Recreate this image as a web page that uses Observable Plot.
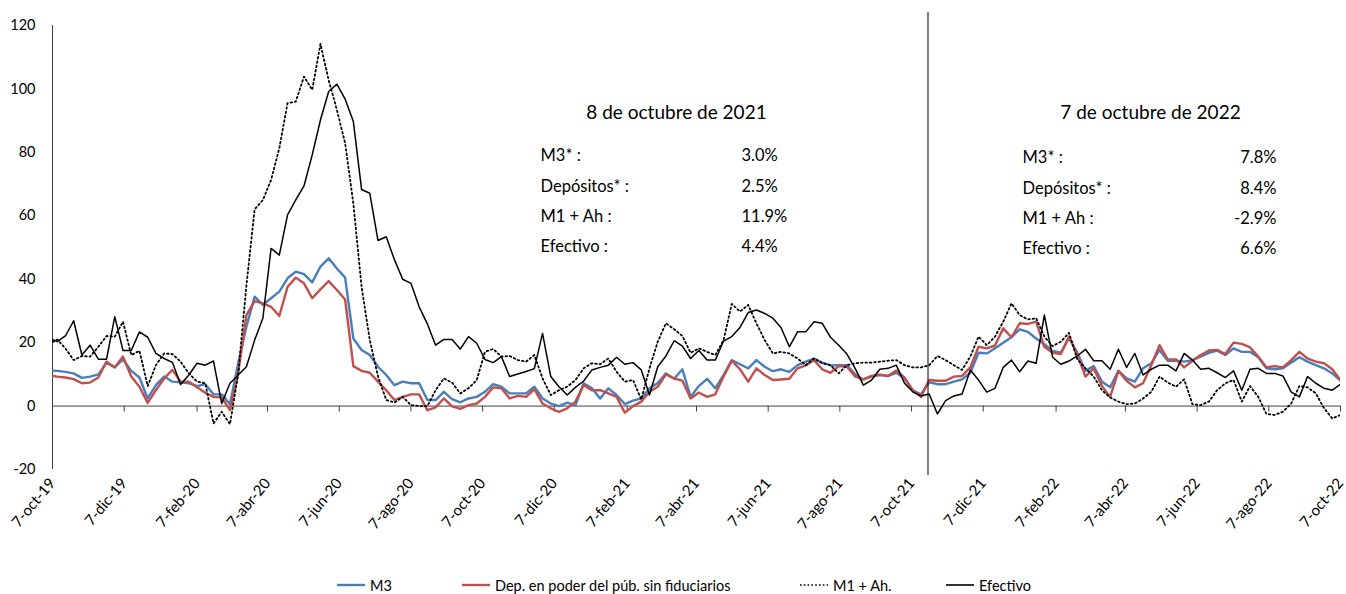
<!DOCTYPE html>
<html><head><meta charset="utf-8">
<script src="https://cdn.jsdelivr.net/npm/d3@7"></script>
<script src="https://cdn.jsdelivr.net/npm/@observablehq/plot@0.6"></script>
<style>
body{margin:0;background:#fff;}
#wrap{position:relative;width:1346px;height:594px;overflow:hidden;font-family:Lato,"Open Sans",sans-serif;}
#legend{position:absolute;left:0;top:575px;width:1346px;height:20px;font-size:14.5px;color:#000;}
.item{position:absolute;top:0;height:20px;display:flex;align-items:center;white-space:nowrap;}
.item svg{margin-right:5px;}
</style></head><body><div id="wrap"><div id="chart"></div><div id="legend"></div></div>
<script>
// ---------------- data ----------------
const START_DATE = "2019-10-04"; // first weekly observation (Fridays)
const M3 = [11.2,
 11.1,10.8,10.3,8.9,9.3,10.0,13.7,12.2,14.7,11.1,9.0,2.4,6.6,9.3,7.7,7.5,7.2,6.3,6.9,3.7,3.7,0.6,
 13.5,25.0,34.5,31.9,34.0,36.1,40.3,42.4,41.6,39.0,44.0,46.6,43.4,40.5,21.3,17.7,16.1,12.4,9.8,6.6,7.7,7.2,7.2,1.9,1.9,4.5,
 2.2,1.2,
 2.4,2.9,4.5,6.9,6.1,4.0,4.0,4.0,6.1,2.4,0.8,0.0,1.1,0.2,7.2,5.6,2.4,5.6,3.5,0.6,1.7,2.4,5.6,7.3,
 10.3,8.6,11.6,2.9,6.3,8.6,5.6,9.8,14.5,13.2,11.9,14.5,12.4,11.0,11.6,10.8,12.9,14.0,15.0,13.7,12.8,12.9,12.9,10.0,8.4,9.3,
 9.8,9.5,10.5,8.7,5.0,3.7,7.5,6.9,6.9,7.7,8.4,10.5,16.8,16.6,18.2,20.0,21.7,24.2,23.4,21.3,19.5,17.4,16.8,21.5,16.8,
 11.1,12.6,7.7,5.9,11.1,8.7,7.7,11.9,13.5,17.7,14.3,14.3,14.0,14.5,15.6,16.8,17.5,16.1,18.2,17.1,17.1,15.4,11.9,11.6,11.9,13.7,15.4,14.0,12.9,11.9,10.3,8.0];
const DEPOSITOS = [9.7,
 9.3,9.0,8.5,7.2,7.4,9.0,14.0,12.2,15.6,9.3,6.1,1.0,5.0,8.7,11.4,7.7,7.7,5.9,4.2,2.9,2.7,-1.3,
 10.3,28.7,33.1,32.4,31.3,28.4,37.6,40.5,38.7,34.0,36.8,39.4,36.6,33.6,12.6,11.1,10.5,7.7,5.0,1.9,2.9,3.7,3.7,-1.3,-0.4,2.4,
 -0.1,-0.9,
 0.3,0.8,2.9,5.9,5.6,2.4,3.2,2.9,5.3,0.8,-0.7,-1.8,-0.7,1.4,6.6,5.0,5.0,4.0,2.9,-2.1,0.0,1.4,4.5,6.1,
 10.0,8.7,8.0,2.4,4.3,2.9,3.7,9.3,14.3,11.6,7.7,11.9,9.8,8.2,8.4,8.6,11.9,12.8,14.5,11.6,10.5,12.6,12.4,9.3,8.4,9.5,
 9.9,9.5,11.2,9.0,5.0,2.9,8.2,8.0,8.0,9.3,9.5,12.2,18.7,18.2,19.1,24.5,21.7,26.1,25.9,26.6,18.7,16.8,16.4,21.9,16.2,
 9.3,11.9,6.3,2.9,11.1,8.0,5.9,7.2,12.9,19.2,14.7,14.7,12.2,14.3,16.1,17.5,17.7,16.4,20.0,19.6,18.5,15.6,12.2,12.6,12.2,14.5,17.1,15.0,14.0,13.5,11.6,8.2];
const M1_AH = [19.5,
 21.0,18.2,14.5,15.8,15.6,18.7,22.1,21.9,26.6,16.1,17.4,6.3,12.9,16.6,16.4,14.0,10.3,7.7,7.2,-5.5,-1.8,-5.7,
 10.0,38.0,62.0,65.0,71.3,81.3,95.5,96.0,103.9,99.7,114.2,102.8,93.4,82.9,63.9,37.6,20.8,9.3,1.9,1.1,2.9,0.3,0.0,0.0,5.0,8.7,
 7.4,4.0,
 5.6,8.2,17.1,18.0,15.6,15.8,14.5,14.0,16.1,8.7,3.5,5.0,6.1,8.2,11.9,13.5,13.2,15.0,10.8,7.7,8.2,2.1,11.9,20.3,
 26.1,24.2,22.1,16.8,18.2,17.1,16.1,20.8,32.2,29.8,31.9,26.1,20.8,16.6,17.1,16.6,15.0,12.9,15.0,13.5,12.9,10.3,12.9,13.5,13.7,13.7,
 14.0,14.3,14.5,12.9,12.2,12.2,12.9,15.8,14.5,12.9,11.4,15.6,21.9,19.2,21.9,26.6,32.4,28.7,27.3,27.7,21.9,18.9,20.3,23.1,14.8,
 11.9,9.3,5.0,2.7,1.4,0.6,0.8,2.4,4.5,9.3,7.4,6.1,8.4,0.6,0.3,1.4,5.0,7.2,8.2,1.4,6.3,2.9,-2.5,-2.8,-1.8,0.8,6.3,5.9,4.0,-0.7,-3.9,-2.8];
const EFECTIVO = [21.5,
 20.3,22.1,26.9,16.1,19.2,14.8,14.8,28.2,17.5,17.5,23.4,21.7,16.6,15.0,13.8,6.8,9.8,13.5,12.9,14.2,0.8,7.2,
 9.8,12.4,20.8,27.7,49.7,47.6,60.3,65.0,69.4,79.2,90.2,99.2,101.5,96.8,89.7,68.3,67.1,52.2,53.4,46.1,40.0,38.7,31.3,25.9,19.2,21.0,
 21.0,18.0,
 21.9,19.8,14.7,13.7,15.6,9.3,10.1,10.9,11.8,22.9,9.3,6.1,3.5,5.9,7.9,11.4,12.2,12.9,15.4,13.2,13.7,11.4,3.5,12.4,
 15.8,20.6,18.9,15.0,17.5,14.5,14.5,20.5,21.9,24.8,29.5,30.3,29.2,27.7,24.7,18.7,23.4,23.4,26.6,26.1,21.7,19.2,16.4,11.9,6.6,8.2,
 11.6,11.9,12.9,7.2,4.5,3.2,3.8,-2.5,1.7,3.2,3.8,11.4,8.2,4.4,5.6,12.2,14.5,10.8,14.2,13.5,28.7,15.4,13.2,14.2,15.8,
 17.9,14.3,14.3,11.6,17.9,12.2,16.6,9.8,11.6,12.9,12.9,11.1,16.6,14.5,11.6,11.9,10.5,9.0,11.1,5.0,11.6,11.9,10.3,10.3,9.5,4.5,2.9,9.3,7.2,5.6,5.0,6.9];

const SERIES_NAMES = ["M3", "Dep. en poder del púb. sin fiduciarios", "M1 + Ah.", "Efectivo"];
const X_TICKS = ["2019-10-07","2019-12-07","2020-02-07","2020-04-07","2020-06-07","2020-08-07","2020-10-07","2020-12-07","2021-02-07","2021-04-07","2021-06-07","2021-08-07","2021-10-07","2021-12-07","2022-02-07","2022-04-07","2022-06-07","2022-08-07","2022-10-07"];
const X_TICK_LABELS = ["7-oct-19","7-dic-19","7-feb-20","7-abr-20","7-jun-20","7-ago-20","7-oct-20","7-dic-20","7-feb-21","7-abr-21","7-jun-21","7-ago-21","7-oct-21","7-dic-21","7-feb-22","7-abr-22","7-jun-22","7-ago-22","7-oct-22"];
const Y_TICKS = [-20, 0, 20, 40, 60, 80, 100, 120];
const DIVIDER_DATE = "2021-10-21";

const NOTE_LABELS = ["M3* :", "Depósitos* :", "M1 + Ah :", "Efectivo :"];
const NOTE_2021_TITLE = "8 de octubre de 2021";
const NOTE_2021_VALUES = ["3.0%", "2.5%", "11.9%", "4.4%"];
const NOTE_2022_TITLE = "7 de octubre de 2022";
const NOTE_2022_VALUES = ["7.8%", "8.4%", "-2.9%", "6.6%"];

// ---------------- layout / style ----------------
const W = 1346, H = 570, ML = 52, MR = 6, MT = 25, MB = 101;
const FONT = 'Lato,"Open Sans",sans-serif';
const COLORS = ["#4a7ebb", "#c0504d", "#000000", "#000000"];
const AXIS = "#404040";

const parse = d3.utcParse("%Y-%m-%d");
const start = parse(START_DATE);
const lens = [M3, DEPOSITOS, M1_AH, EFECTIVO].map(a => a.length);
if (new Set(lens).size !== 1) throw new Error("length mismatch " + lens);
const dates = M3.map((_, i) => d3.utcDay.offset(start, 7 * i));
const mk = (arr) => arr.map((v, i) => ({date: dates[i], value: v}));
const sM3 = mk(M3), sDep = mk(DEPOSITOS), sM1 = mk(M1_AH), sEf = mk(EFECTIVO);
const xTicks = X_TICKS.map(parse);
const labelOf = new Map(xTicks.map((d, i) => [+d, X_TICK_LABELS[i]]));
const yDomain = [-20, 120];
const unitsPerPx = (yDomain[1] - yDomain[0]) / (H - MT - MB);

const noteText = (txt, x, y, anchor, size, extra = {}) =>
  Plot.text([txt], {frameAnchor: "top-left", dx: x - ML, dy: y - MT, text: d => d, textAnchor: anchor,
    lineAnchor: "middle", fontSize: size, fill: "#000", ...extra});
const ROW_LH = 30.3 / 16.5;

const chart = Plot.plot({
  width: W, height: H,
  marginLeft: ML, marginRight: MR, marginTop: MT, marginBottom: MB,
  style: {fontFamily: FONT, background: "#fff", color: "#000", overflow: "visible"},
  x: {type: "utc", domain: [xTicks[0], xTicks[xTicks.length - 1]]},
  y: {domain: yDomain},
  marks: [
    Plot.axisY({ticks: Y_TICKS, tickSize: 0, tickPadding: 17, fontSize: 14.5, label: null, tickFormat: d => String(d)}),
    Plot.axisX({ticks: xTicks, tickSize: 0, tickPadding: 11, tickRotate: -50, fontSize: 15, label: null,
      tickFormat: d => labelOf.get(+d)}),
    Plot.ruleX([xTicks[0]], {y1: yDomain[0], y2: yDomain[1], stroke: AXIS, strokeWidth: 1}),
    Plot.ruleY([0], {stroke: AXIS, strokeWidth: 1}),
    Plot.ruleX(xTicks, {x: d => d, y1: 0, y2: -6 * unitsPerPx, stroke: AXIS, strokeWidth: 1}),
    Plot.line(sM3, {x: "date", y: "value", stroke: COLORS[0], strokeWidth: 2.4, clip: true}),
    Plot.line(sDep, {x: "date", y: "value", stroke: COLORS[1], strokeWidth: 2.4, clip: true}),
    Plot.line(sM1, {x: "date", y: "value", stroke: COLORS[2], strokeWidth: 1.8, strokeDasharray: "1.6 2.8", clip: true}),
    Plot.line(sEf, {x: "date", y: "value", stroke: COLORS[3], strokeWidth: 1.5, clip: true}),
    Plot.ruleX([parse(DIVIDER_DATE)], {y1: yDomain[0] - 6 * unitsPerPx, y2: yDomain[1] + 13 * unitsPerPx, stroke: "#000", strokeWidth: 1}),
    // annotation boxes
    noteText(NOTE_2021_TITLE, 676, 112, "middle", 19),
    noteText(NOTE_LABELS.join("\n"), 540, 196.5, "start", 16.5, {lineHeight: ROW_LH}),
    noteText(NOTE_2021_VALUES.join("\n"), 741, 196.5, "start", 16.5, {lineHeight: ROW_LH}),
    noteText(NOTE_2022_TITLE, 1150, 112, "middle", 19),
    noteText(NOTE_LABELS.join("\n"), 1022, 198.5, "start", 16.5, {lineHeight: ROW_LH}),
    noteText(NOTE_2022_VALUES.join("\n"), 1276, 198.5, "end", 16.5, {lineHeight: ROW_LH})
  ]
});
document.getElementById("chart").appendChild(chart);

// ---------------- legend ----------------
const LEGEND_LEFT = [337, 462, 800, 946];
const legend = document.getElementById("legend");
SERIES_NAMES.forEach((name, i) => {
  const div = document.createElement("div");
  div.className = "item";
  div.style.left = LEGEND_LEFT[i] + "px";
  const dash = i === 2 ? 'stroke-dasharray="1.6 2.2"' : "";
  const sw = i < 2 ? 2.4 : 1.6;
  div.innerHTML = `<svg width="28" height="10"><line x1="0" y1="5" x2="28" y2="5" stroke="${COLORS[i]}" stroke-width="${sw}" ${dash}/></svg><span>${name}</span>`;
  legend.appendChild(div);
});
</script></body></html>
